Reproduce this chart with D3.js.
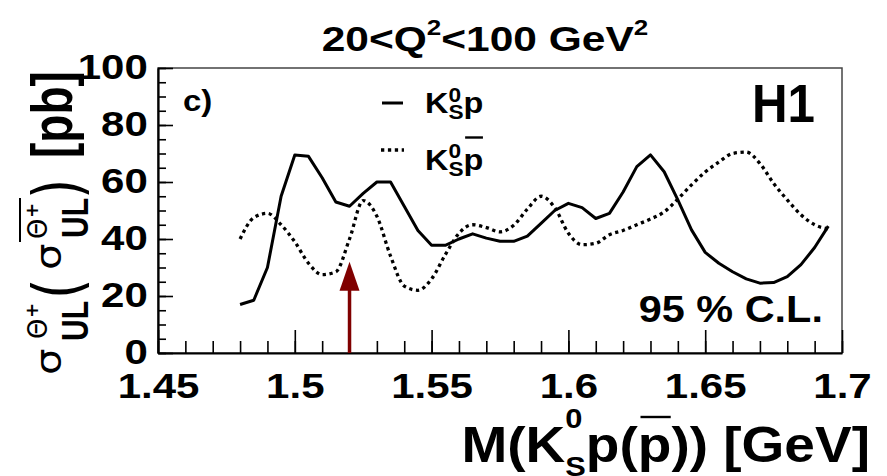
<!DOCTYPE html>
<html>
<head>
<meta charset="utf-8">
<script src="https://cdn.jsdelivr.net/npm/d3@7"></script>
<style>
  html, body { margin: 0; padding: 0; background: #fff; }
  svg { display: block; }
  text { font-family: "Liberation Sans", Arial, sans-serif; font-weight: bold; fill: #000; }
</style>
</head>
<body>
<svg id="chart" width="887" height="476"></svg>
<script>
// Invariant-mass grid [GeV] on which the upper limits are evaluated
const massGrid = [
  1.480, 1.485, 1.490, 1.495, 1.500, 1.505, 1.510, 1.515, 1.520, 1.525,
  1.530, 1.535, 1.540, 1.545, 1.550, 1.555, 1.560, 1.565, 1.570, 1.575,
  1.580, 1.585, 1.590, 1.595, 1.600, 1.605, 1.610, 1.615, 1.620, 1.625,
  1.630, 1.635, 1.640, 1.645, 1.650, 1.655, 1.660, 1.665, 1.670, 1.675,
  1.680, 1.685, 1.690, 1.695
];
// 95% C.L. upper limit on sigma(Theta+) [pb], K0s p channel
const ulKsP = [
  17.0, 18.5, 30.0, 55.0, 69.5, 69.0, 61.5, 53.0, 51.5, 56.0,
  60.0, 60.0, 51.5, 43.0, 37.8, 37.8, 40.0, 41.8, 40.3, 39.2,
  39.2, 41.0, 45.5, 50.0, 52.5, 51.0, 47.2, 49.0, 56.5, 65.4,
  69.5, 63.6, 53.7, 43.2, 35.3, 31.5, 28.5, 26.0, 24.5, 24.7,
  26.8, 31.0, 37.0, 44.5
];
// 95% C.L. upper limit on sigma(anti-Theta+) [pb], K0s pbar channel
const ulKsPbar = [
  40.0, 47.5, 49.0, 45.0, 39.0, 31.5, 27.5, 28.5, 40.0, 53.5,
  48.0, 34.0, 23.5, 22.0, 26.0, 34.5, 42.0, 45.0, 44.0, 42.5,
  44.8, 50.5, 55.0, 51.0, 42.0, 38.0, 38.5, 41.5, 43.0, 45.0,
  47.0, 49.5, 54.0, 59.0, 63.5, 67.0, 70.0, 70.5, 66.5, 59.5,
  53.7, 48.5, 45.0, 43.5
];
// Axis ticks
const xTickValues = [1.45, 1.50, 1.55, 1.60, 1.65, 1.70];
const xTickLabels = ["1.45", "1.5", "1.55", "1.6", "1.65", "1.7"];
const yTickValues = [0, 20, 40, 60, 80, 100];
const yTickLabels = ["0", "20", "40", "60", "80", "100"];
// Marker arrow: mass [GeV] and its extent in pb
const arrowMass = 1.52;
const arrowFrom = 0;
const arrowTo = 32;

const svg = d3.select("#chart");
const plot = { left: 158, right: 842, top: 68, bottom: 353 };

const x = d3.scaleLinear().domain([1.45, 1.70]).range([plot.left, plot.right]);
const y = d3.scaleLinear().domain([0, 100]).range([plot.bottom, plot.top]);

// frame
svg.append("rect")
  .attr("x", plot.left).attr("y", plot.top)
  .attr("width", plot.right - plot.left).attr("height", plot.bottom - plot.top)
  .attr("fill", "none").attr("stroke", "#444").attr("stroke-width", 1.5);

// minor ticks
const xMinor = d3.range(0, 26).map(i => +(1.45 + i * 0.01).toFixed(2));
const yMinor = d3.range(0, 21).map(i => i * 5);

svg.append("g").attr("transform", `translate(0,${plot.bottom})`)
  .call(d3.axisBottom(x).tickValues(xMinor).tickSize(-12).tickSizeOuter(0).tickFormat(""))
  .call(g => g.select(".domain").remove())
  .selectAll("line").attr("stroke", "#000").attr("stroke-width", 1.6);

svg.append("g").attr("transform", `translate(${plot.left},0)`)
  .call(d3.axisLeft(y).tickValues(yMinor).tickSize(-8).tickSizeOuter(0).tickFormat(""))
  .call(g => g.select(".domain").remove())
  .selectAll("line").attr("stroke", "#000").attr("stroke-width", 1.6);

// major ticks + labels
const xAxis = svg.append("g").attr("transform", `translate(0,${plot.bottom})`)
  .call(d3.axisBottom(x).tickValues(xTickValues).tickSize(-23).tickSizeOuter(0)
    .tickFormat((d, i) => xTickLabels[i]));
xAxis.select(".domain").attr("stroke", "#000").attr("stroke-width", 2.2);
xAxis.selectAll("line").attr("stroke", "#000").attr("stroke-width", 1.6);
xAxis.selectAll("text")
  .attr("y", 45).attr("dy", null)
  .attr("transform", "scale(1.2,1)")
  .style("font-size", "35px").style("font-family", "'Liberation Sans', Arial, sans-serif")
  .style("font-weight", "bold").attr("fill", "#000");

const yAxis = svg.append("g").attr("transform", `translate(${plot.left},0)`)
  .call(d3.axisLeft(y).tickValues(yTickValues).tickSize(-15).tickSizeOuter(0)
    .tickFormat((d, i) => yTickLabels[i]));
yAxis.select(".domain").attr("stroke", "#000").attr("stroke-width", 2.2);
yAxis.selectAll("line").attr("stroke", "#000").attr("stroke-width", 1.6);
yAxis.selectAll("text")
  .attr("x", -8.5).attr("y", 10.5).attr("dy", null)
  .attr("transform", "scale(1.2,1)")
  .style("font-size", "35px").style("font-family", "'Liberation Sans', Arial, sans-serif")
  .style("font-weight", "bold").attr("fill", "#000");

// curves
const pts = vals => massGrid.map((m, i) => [m, vals[i]]);

svg.append("path").datum(pts(ulKsPbar))
  .attr("d", d3.line().x(d => x(d[0])).y(d => y(d[1])).curve(d3.curveMonotoneX))
  .attr("fill", "none").attr("stroke", "#000").attr("stroke-width", 3.3)
  .attr("stroke-dasharray", "3.3 3.6");

svg.append("path").datum(pts(ulKsP))
  .attr("d", d3.line().x(d => x(d[0])).y(d => y(d[1])))
  .attr("fill", "none").attr("stroke", "#000").attr("stroke-width", 3)
  .attr("stroke-linejoin", "round");

// arrow
const arrowColor = "#800000";
const headLen = 29, headHalf = 10;
const ax = x(arrowMass), aTip = y(arrowTo);
svg.append("line")
  .attr("x1", ax).attr("x2", ax)
  .attr("y1", y(arrowFrom)).attr("y2", aTip + headLen - 1)
  .attr("stroke", arrowColor).attr("stroke-width", 3.5);
svg.append("path")
  .attr("d", `M${ax},${aTip} L${ax - headHalf},${aTip + headLen} L${ax + headHalf},${aTip + headLen} Z`)
  .attr("fill", arrowColor);

// text with sub/superscripts laid out run by run, stretched horizontally
function rich(x0, y0, anchor, sx, runs) {
  const g = svg.append("g");
  const inner = g.append("g");
  let cx = 0, stackX = 0, stackW = 0;
  runs.forEach(r => {
    const start = r.under ? stackX : cx + (r.dx || 0);
    const t = inner.append("text")
      .attr("x", start).attr("y", r.dy || 0)
      .style("font-size", r.s + "px")
      .text(r.t);
    const w = t.node().getComputedTextLength();
    if (r.bar) {
      inner.append("line")
        .attr("x1", start + w * 0.08).attr("x2", start + w * 0.98)
        .attr("y1", r.bar).attr("y2", r.bar)
        .attr("stroke", "#000").attr("stroke-width", 2.4);
    }
    if (r.under) {
      cx = stackX + Math.max(stackW, w);
    } else {
      stackX = start; stackW = w; cx = start + w;
    }
  });
  const off = anchor === "middle" ? -cx / 2 : anchor === "end" ? -cx : 0;
  inner.attr("transform", `translate(${off},0)`);
  g.attr("transform", `translate(${x0},${y0}) scale(${sx},1)`);
  return g;
}

// title
rich(485, 51, "middle", 1.18, [
  { t: "20<Q", s: 36 },
  { t: "2", s: 22, dy: -16 },
  { t: "<100 GeV", s: 36 },
  { t: "2", s: 22, dy: -16 }
]);

// x-axis title
rich(870, 462, "end", 1.1, [
  { t: "M(K", s: 50 },
  { t: "0", s: 28, dy: -34 },
  { t: "S", s: 28, dy: 14, under: true },
  { t: "p(", s: 50 },
  { t: "p", s: 50, bar: -45 },
  { t: ")) [GeV]", s: 50 }
]);

// y-axis title, rotated pieces
function rotPiece(bx, ys, str, size, fam, weight, sy) {
  svg.append("text")
    .attr("transform", `translate(${bx},${ys}) rotate(-90) scale(1,${sy})`)
    .style("font-size", size + "px")
    .style("font-family", fam)
    .style("font-weight", weight)
    .text(str);
}
const sym = "'DejaVu Sans', sans-serif";
const hel = "'Liberation Sans', Arial, sans-serif";
rotPiece(61, 375, "σ", 42, sym, "normal", 0.85);
rotPiece(88, 341, "UL", 30, hel, "bold", 1.25);
rotPiece(47, 339, "Θ", 26, sym, "normal", 1);
rotPiece(38, 318, "+", 18, sym, "bold", 1);
rotPiece(80, 299, "(", 52, sym, "normal", 1.25);
rotPiece(61, 270, "σ", 42, sym, "normal", 0.85);
rotPiece(88, 238, "UL", 30, hel, "bold", 1.25);
rotPiece(47, 239, "Θ", 26, sym, "normal", 1);
rotPiece(38, 218, "+", 18, sym, "bold", 1);
svg.append("line").attr("x1", 20).attr("x2", 20).attr("y1", 198).attr("y2", 242)
  .attr("stroke", "#000").attr("stroke-width", 2);
rotPiece(80, 199, ")", 52, sym, "normal", 1.25);
rotPiece(72, 158, "[pb]", 46, hel, "bold", 1.25);

// labels inside the frame
rich(183, 111, "start", 1.1, [{ t: "c)", s: 30 }]);
rich(752, 122, "start", 0.93, [{ t: "H1", s: 53 }]);
rich(823, 322, "end", 1.12, [{ t: "95 % C.L.", s: 37 }]);

// legend
svg.append("line").attr("x1", 382).attr("x2", 403).attr("y1", 103).attr("y2", 103)
  .attr("stroke", "#000").attr("stroke-width", 3);
svg.append("line").attr("x1", 381).attr("x2", 404).attr("y1", 150).attr("y2", 150)
  .attr("stroke", "#000").attr("stroke-width", 3.3).attr("stroke-dasharray", "3.3 3.6");
rich(425, 113, "start", 1.08, [
  { t: "K", s: 30 },
  { t: "0", s: 21, dy: -11 },
  { t: "S", s: 21, dy: 6, under: true },
  { t: "p", s: 30 }
]);
rich(425, 169.5, "start", 1.08, [
  { t: "K", s: 30 },
  { t: "0", s: 21, dy: -12 },
  { t: "S", s: 21, dy: 6, under: true },
  { t: "p", s: 30, bar: -32 }
]);
</script>
</body>
</html>
